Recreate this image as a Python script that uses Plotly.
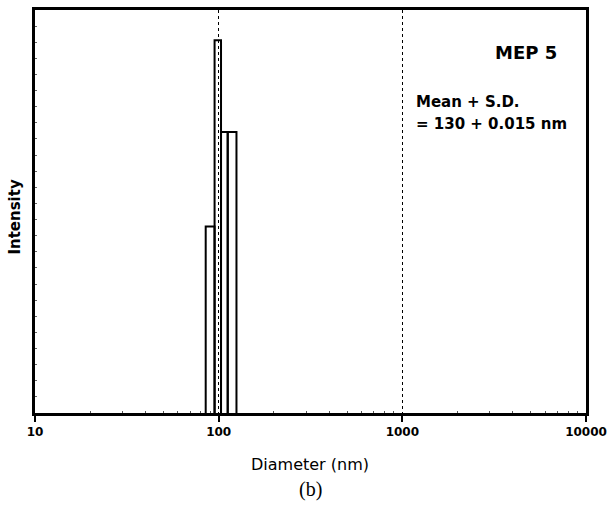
import plotly.graph_objects as go

# Histogram bins (diameter in nm) and relative intensity
bin_left = [85, 95, 103, 112]
bin_right = [95, 103, 112, 125]
intensity = [46.3, 92.5, 69.7, 69.7]

tick_vals = [10, 100, 1000, 10000]
tick_text = ["10", "100", "1000", "10000"]
minor_vals = [m * d for d in (10, 100, 1000) for m in range(2, 10)]

fig = go.Figure()
for l, r, h in zip(bin_left, bin_right, intensity):
    fig.add_trace(go.Scatter(
        x=[l, l, r, r], y=[0, h, h, 0],
        mode="lines", line=dict(color="black", width=2),
        hoverinfo="skip", showlegend=False,
    ))

fig.update_layout(
    width=614, height=510,
    margin=dict(l=35, r=24, t=7, b=97),
    paper_bgcolor="white", plot_bgcolor="white",
    font=dict(family="DejaVu Sans", color="black"),
    showlegend=False,
)

fig.update_xaxes(
    type="log", range=[1, 4],
    tickvals=tick_vals, ticktext=tick_text,
    ticks="outside", ticklen=6, tickwidth=2, tickcolor="black",
    showline=True, linewidth=2.5, linecolor="black", mirror=True,
    showgrid=True, griddash="dot", gridcolor="black", gridwidth=1,
    zeroline=False,
    tickfont=dict(family="DejaVu Sans", size=12, weight="bold"),
    minor=dict(tickmode="array", tickvals=minor_vals, ticks="inside",
               ticklen=2, tickcolor="#555", tickwidth=1, showgrid=False),
)
fig.update_yaxes(
    range=[0, 100],
    showticklabels=False,
    ticks="inside", ticklen=2, tickcolor="#666", tickwidth=1, dtick=4,
    showline=True, linewidth=2.5, linecolor="black", mirror=True,
    showgrid=False, zeroline=False,
)

fig.add_annotation(text="Diameter (nm)", xref="paper", yref="paper",
                   x=(312 - 35) / 555, y=(413 - 465) / 406, showarrow=False,
                   xanchor="center", yanchor="middle",
                   font=dict(family="DejaVu Sans", size=16))
fig.add_annotation(text="(b)", xref="paper", yref="paper",
                   x=(312 - 35) / 555, y=(413 - 490) / 406, showarrow=False,
                   xanchor="center", yanchor="middle",
                   font=dict(family="Liberation Serif", size=20))
fig.add_annotation(text="Intensity", xref="paper", yref="paper",
                   x=(15 - 35) / 555, y=(413 - 215) / 406, showarrow=False,
                   textangle=-90, xanchor="center", yanchor="middle",
                   font=dict(family="DejaVu Sans", size=15, weight="bold"))
fig.add_annotation(text="MEP 5", xref="paper", yref="paper",
                   x=(563 - 35) / 555, y=(413 - 50) / 406, showarrow=False,
                   xanchor="right", yanchor="middle",
                   font=dict(family="DejaVu Sans", size=18, weight="bold"))
fig.add_annotation(text="Mean + S.D.", xref="paper", yref="paper",
                   x=(417 - 35) / 555, y=(413 - 100) / 406, showarrow=False,
                   xanchor="left", yanchor="middle",
                   font=dict(family="DejaVu Sans", size=15, weight="bold"))
fig.add_annotation(text="= 130 + 0.015 nm", xref="paper", yref="paper",
                   x=(417 - 35) / 555, y=(413 - 122) / 406, showarrow=False,
                   xanchor="left", yanchor="middle",
                   font=dict(family="DejaVu Sans", size=15, weight="bold"))

fig.write_html("out.html")
